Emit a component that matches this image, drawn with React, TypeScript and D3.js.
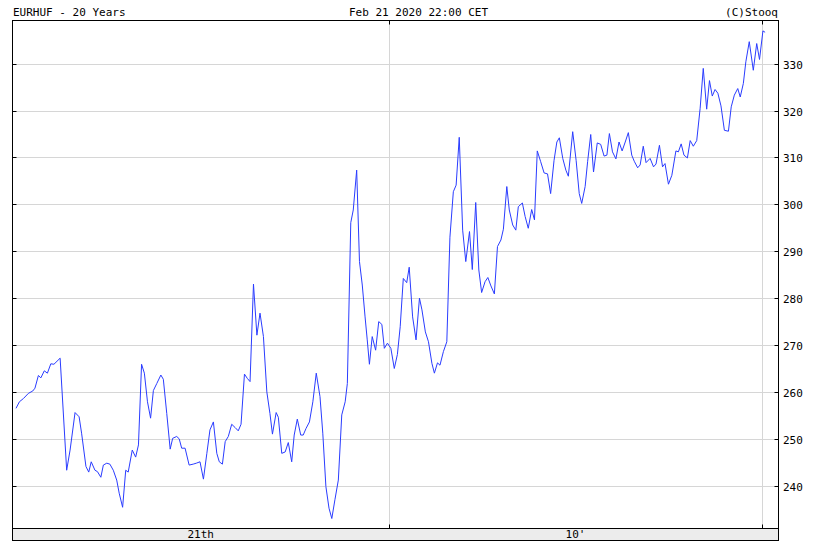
import React from 'react';
import * as d3 from 'd3';

// months since Jan 2000 and EURHUF close
const months = [
  0, 1.1, 2.4, 4, 5.4, 6.1, 7.2, 8, 9.1, 10.1, 11.2, 12.2, 14.2, 16.3, 17.4, 19, 20.3, 21.1, 22.5, 23.4,
  24.2, 25.4, 26.2, 27.3, 28.1, 29.2, 30.2, 31.3, 32.4, 33.2, 34.3, 35.3, 36.1, 37.4, 38.5, 39.4, 40.4, 41.3, 42.3, 43.3,
  44.2, 45.3, 46.6, 47.4, 48.5, 49.6, 50.4, 51.7, 52.5, 53.3, 54.4, 55.7, 57, 58, 59.2, 60.3, 61.4, 62.4, 63.5, 64.6,
  65.4, 66.4, 67.3, 68.3, 69.4, 70.5, 71.5, 72.4, 73.5, 74.4, 75.3, 76.4, 77.5, 78.5, 79.6, 80.7, 81.7, 82.5, 83.7, 84.4,
  85.5, 86.6, 87.6, 88.7, 89.5, 90.5, 91.6, 92.4, 93.3, 94.4, 95.5, 96.6, 97.8, 98.7, 99.7, 100.7, 101.6, 102.6, 103.7, 104.8,
  105.9, 106.6, 107.7, 108.5, 109.6, 110.5, 111.4, 112.3, 113, 113.7, 114.6, 115.7, 116.7, 117.7, 118.5, 119.5, 120.6, 121.7, 122.7, 123.6,
  124.6, 125.7, 126.5, 127.6, 128.7, 129.8, 130.6, 131.7, 132.7, 133.8, 134.6, 135.6, 136.4, 137.5, 138.6, 139.6, 140.7, 141.6, 142.6, 143.7,
  144.7, 145.9, 146.8, 147.9, 148.9, 149.8, 150.9, 151.8, 152.8, 153.9, 154.9, 156, 156.8, 157.9, 158.7, 159.8, 160.8, 161.6, 162.9, 163.8,
  164.8, 165.9, 166.8, 167.7, 168.8, 169.9, 171, 172, 173.1, 174, 174.8, 175.9, 176.9, 177.7, 179.1, 180.2, 181.2, 182, 183.1, 183.9,
  184.9, 185.8, 187, 188.1, 189.2, 190.1, 190.9, 191.9, 193, 194, 195, 196, 197, 198.1, 198.9, 200, 200.8, 201.8, 202.7, 204,
  205.1, 205.9, 207, 208, 208.8, 209.9, 211, 212.3, 213.1, 214, 214.9, 216, 216.9, 217.9, 219, 220.1, 221.1, 222.2, 223.1, 224,
  224.9, 225.8, 226.8, 227.9, 229.2, 230.1, 231.1, 232.2, 233, 234, 234.8, 235.9, 237.2, 238.3, 239.2, 240.3, 241,
];

const values = [
  256.5, 257.9, 258.6, 259.7, 260.2, 260.8, 263.5, 263.0, 264.5, 264.0, 266.0, 265.9, 267.2, 243.3, 247.6, 255.6, 254.7, 251.2, 244.1, 242.9,
  245.1, 243.3, 243.0, 241.8, 244.4, 244.8, 244.6, 243.3, 241.2, 238.4, 235.4, 243.3, 242.9, 247.6, 246.1, 248.7, 265.9, 264.0, 257.9, 254.4,
  260.3, 261.8, 263.6, 262.7, 255.4, 247.8, 250.1, 250.5, 250.0, 248.0, 248.0, 244.4, 244.6, 244.8, 245.1, 241.4, 246.9, 251.9, 253.6, 246.9,
  245.1, 244.6, 249.4, 250.5, 253.1, 252.4, 251.7, 253.1, 263.8, 262.9, 262.2, 283.0, 272.1, 276.8, 271.8, 260.0, 255.4, 251.0, 255.6, 254.6,
  246.9, 247.2, 249.2, 245.1, 250.8, 254.2, 250.8, 250.8, 252.2, 253.6, 257.9, 264.0, 259.0, 251.2, 239.8, 235.2, 233.0, 237.0, 241.2, 255.1,
  257.9, 261.8, 296.1, 298.8, 307.3, 287.8, 282.8, 276.0, 271.1, 265.9, 271.8, 268.9, 275.0, 274.4, 269.3, 270.4, 269.3, 265.0, 268.0, 273.9,
  284.2, 283.3, 286.6, 276.0, 271.1, 280.0, 277.5, 272.8, 270.7, 266.1, 264.0, 266.2, 265.7, 268.6, 270.7, 293.0, 302.7, 304.1, 314.3, 294.5,
  287.8, 294.2, 286.1, 300.4, 286.0, 281.2, 283.5, 284.4, 282.6, 280.9, 291.0, 292.4, 294.7, 303.8, 298.8, 295.6, 294.5, 299.5, 300.3, 297.4,
  294.9, 298.9, 296.7, 311.4, 309.1, 306.7, 306.5, 302.3, 309.4, 313.3, 314.2, 309.8, 307.3, 306.0, 315.5, 309.4, 302.3, 300.2, 303.8, 309.1,
  314.9, 306.9, 313.1, 312.8, 310.3, 310.5, 315.1, 311.2, 309.7, 313.3, 311.4, 313.3, 315.3, 310.5, 309.2, 307.8, 308.4, 312.4, 308.9, 309.8,
  308.0, 308.6, 312.6, 308.0, 308.7, 304.3, 306.2, 311.4, 311.2, 312.9, 310.5, 309.9, 313.6, 312.4, 313.6, 320.5, 329.0, 320.3, 326.4, 323.1,
  324.5, 323.7, 321.0, 315.8, 315.6, 320.8, 323.3, 324.7, 322.9, 325.8, 330.4, 334.7, 328.6, 334.3, 330.9, 337.0, 336.7,
];

const yTicks = [240, 250, 260, 270, 280, 290, 300, 310, 320, 330];
const decadeMonths = [120, 240];
const decadeLabels = ["21th", "10'"];
const title = "EURHUF - 20 Years";
const stamp = "Feb 21 2020 22:00 CET";
const credit = "(C)Stooq";

const W = 816;
const H = 541;
const plot = { left: 12.5, right: 778.5, top: 20.5, bottom: 528.5 };
const band = { top: 528.5, bottom: 540.5 };
const font = "'DejaVu Sans Mono', monospace";

export default function App() {
  const x = d3.scaleLinear().domain([0, 240]).range([16, 762]);
  const y = d3.scaleLinear().domain([240, 330]).range([485.7, 63.7]);

  const line = d3.line<number>()
    .x((_, i) => x(months[i]))
    .y(d => y(d));

  // decade labels sit in the middle of each decade span
  const spans = [plot.left, x(decadeMonths[0]), x(decadeMonths[1])];

  return (
    <svg width={W} height={H} style={{ position: 'absolute', left: 0, top: 0, background: '#fff' }}>
      <text x={13} y={16} fontFamily={font} fontSize={11} fill="#000">{title}</text>
      <text x={349} y={16} fontFamily={font} fontSize={11} fill="#000">{stamp}</text>
      <text x={778} y={16} fontFamily={font} fontSize={11} fill="#000" textAnchor="end">{credit}</text>

      {/* horizontal grid + ticks */}
      {yTicks.map(t => {
        const yy = Math.round(y(t)) + 0.5;
        return (
          <g key={t}>
            <line x1={plot.left} x2={plot.right} y1={yy} y2={yy} stroke="#d6d6d6" />
            <line x1={plot.left} x2={plot.left + 4} y1={yy} y2={yy} stroke="#000" />
            <line x1={plot.right - 4} x2={plot.right} y1={yy} y2={yy} stroke="#000" />
            <text x={783} y={yy + 4} fontFamily={font} fontSize={11} fill="#000">{t}</text>
          </g>
        );
      })}

      {/* vertical decade grid */}
      {decadeMonths.map(m => {
        const xx = Math.round(x(m)) + 0.5;
        return (
          <g key={m}>
            <line x1={xx} x2={xx} y1={plot.top} y2={plot.bottom} stroke="#d6d6d6" />
            <line x1={xx} x2={xx} y1={plot.bottom - 4} y2={plot.bottom} stroke="#000" />
            <line x1={xx} x2={xx} y1={plot.top} y2={plot.top + 4} stroke="#000" />
          </g>
        );
      })}

      <path d={line(values) || ''} fill="none" stroke="#2a3cff" strokeWidth={1} strokeLinejoin="round" />

      <rect x={plot.left} y={plot.top} width={plot.right - plot.left} height={plot.bottom - plot.top}
        fill="none" stroke="#000" />

      {/* bottom time band */}
      <rect x={plot.left} y={band.top} width={plot.right - plot.left} height={band.bottom - band.top}
        fill="#ececec" stroke="#000" />
      {decadeLabels.map((lbl, i) => (
        <text key={lbl} x={(spans[i] + spans[i + 1]) / 2} y={538} fontFamily={font} fontSize={11}
          fill="#000" textAnchor="middle">{lbl}</text>
      ))}
    </svg>
  );
}
